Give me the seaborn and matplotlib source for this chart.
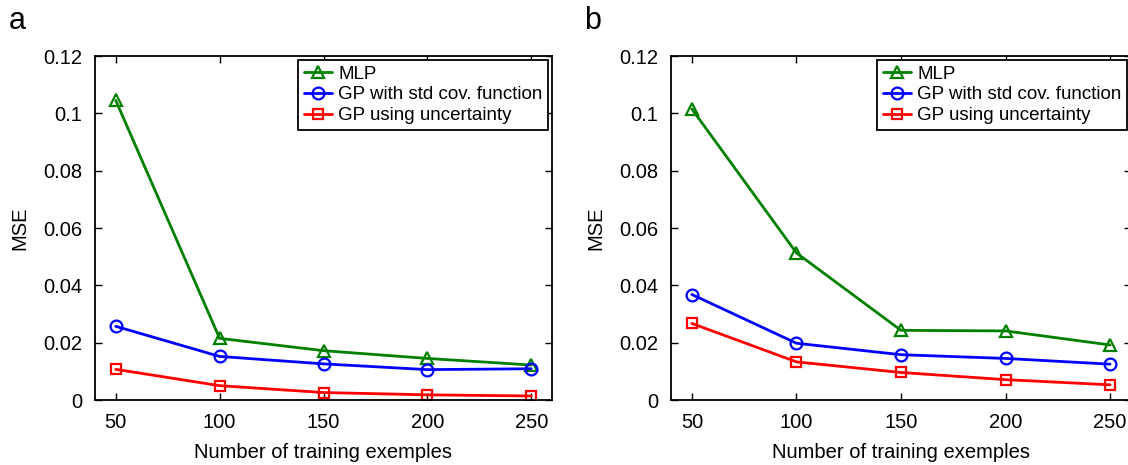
import matplotlib
matplotlib.use("Agg")
import matplotlib.pyplot as plt
import numpy as np
import pandas as pd
import seaborn as sns

# data
n_train = [50, 100, 150, 200, 250]
series_names = ["MLP", "GP with std cov. function", "GP using uncertainty"]

mlp_a = [0.1045, 0.0215, 0.0172, 0.0145, 0.0122]
gp_std_a = [0.0257, 0.0152, 0.0126, 0.0106, 0.0109]
gp_unc_a = [0.0107, 0.0050, 0.0026, 0.0018, 0.0014]

mlp_b = [0.1015, 0.0513, 0.0243, 0.0241, 0.0192]
gp_std_b = [0.0368, 0.0198, 0.0158, 0.0145, 0.0125]
gp_unc_b = [0.0267, 0.0133, 0.0096, 0.0071, 0.0053]

yticks = [0, 0.02, 0.04, 0.06, 0.08, 0.1, 0.12]
ytick_labels = ["0", "0.02", "0.04", "0.06", "0.08", "0.1", "0.12"]

colors = ["#008000", "#0000ff", "#ff0000"]
markers = ["^", "o", "s"]
msizes = [9, 8.5, 6.5]

sns.set_style("ticks")
plt.rcParams["font.family"] = ["Liberation Sans", "DejaVu Sans"]
plt.rcParams["xtick.direction"] = "in"
plt.rcParams["ytick.direction"] = "in"
plt.rcParams["text.color"] = "black"
plt.rcParams["axes.labelcolor"] = "black"
plt.rcParams["xtick.color"] = "black"
plt.rcParams["ytick.color"] = "black"

fig = plt.figure(figsize=(11.28, 4.65), dpi=100)
W, H = 1128, 465
axA = fig.add_axes([95 / W, 1 - 400 / H, (552 - 95) / W, (400 - 56) / H])
axB = fig.add_axes([671 / W, 1 - 400 / H, (1131 - 671) / W, (400 - 56) / H])


def draw_panel(ax, vals, letter, letter_x):
    df = pd.DataFrame({"n": n_train * 3,
                       "mse": vals[0] + vals[1] + vals[2],
                       "model": np.repeat(series_names, len(n_train))})
    for i, name in enumerate(series_names):
        sub = df[df["model"] == name]
        sns.lineplot(data=sub, x="n", y="mse", ax=ax, color=colors[i],
                     marker=markers[i], markersize=msizes[i], linewidth=2,
                     markerfacecolor="none", markeredgecolor=colors[i],
                     markeredgewidth=1.6, label=name)
    ax.set_xlim(40, 260)
    ax.set_ylim(0, 0.12)
    ax.set_xticks(n_train)
    ax.set_yticks(yticks)
    ax.set_yticklabels(ytick_labels)
    ax.tick_params(axis="both", which="both", top=True, right=True,
                   labelsize=14.5, length=5, width=1, pad=9,
                   colors="black", labelcolor="black")
    for s in ax.spines.values():
        s.set_linewidth(1.3)
        s.set_color("black")
    ax.set_xlabel("Number of training exemples", fontsize=14.5, labelpad=8)
    ax.set_ylabel("MSE", fontsize=14.5, labelpad=10)
    leg = ax.legend(loc="upper right", fontsize=13.5, frameon=True, fancybox=False,
                    borderaxespad=0.2, handlelength=1.5, handletextpad=0.35,
                    labelspacing=0.2, borderpad=0.3)
    leg.get_frame().set_edgecolor("black")
    leg.get_frame().set_linewidth(1.3)
    leg.get_frame().set_alpha(1)
    fig.text(letter_x / W, 1 - 29 / H, letter, fontsize=22,
             ha="left", va="baseline")


draw_panel(axA, [mlp_a, gp_std_a, gp_unc_a], "a", 9)
draw_panel(axB, [mlp_b, gp_std_b, gp_unc_b], "b", 584)

fig.savefig("out.png", dpi=100)
